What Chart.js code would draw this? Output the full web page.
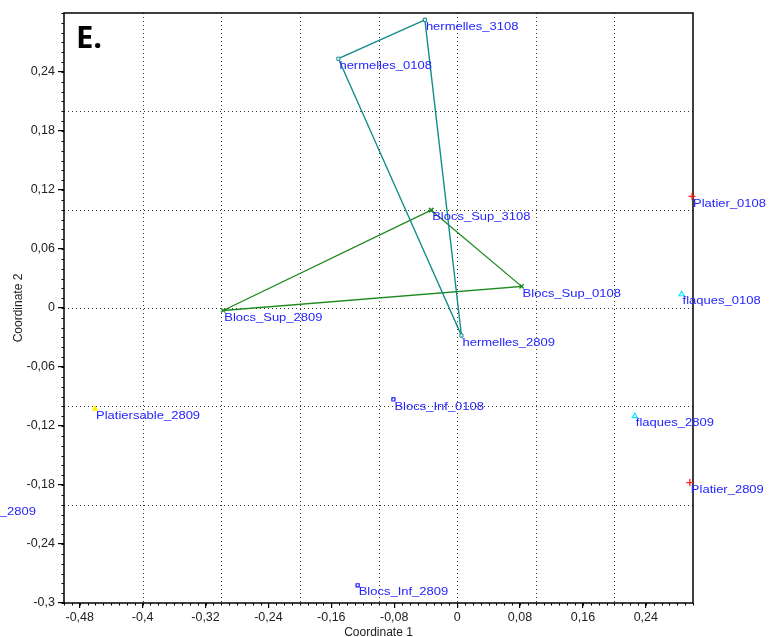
<!DOCTYPE html>
<html>
<head>
<meta charset="utf-8">
<script src="https://cdn.jsdelivr.net/npm/chart.js@4.4.0/dist/chart.umd.min.js"></script>
<style>
  body { margin: 0; background: #fff; }
  canvas { display: block; }
</style>
</head>
<body>
<canvas id="myChart" width="777" height="637"></canvas>
<script>
// site coordinates (Coordinate 1, Coordinate 2)
const hermellesNames = ['hermelles_3108', 'hermelles_0108', 'hermelles_2809'];
const hermellesX = [-0.041, -0.151, 0.0055];
const hermellesY = [0.293, 0.2535, -0.028];

const blocsSupNames = ['Blocs_Sup_3108', 'Blocs_Sup_0108', 'Blocs_Sup_2809'];
const blocsSupX = [-0.033, 0.082, -0.2975];
const blocsSupY = [0.0995, 0.022, -0.0025];

const blocsInfNames = ['Blocs_Inf_0108', 'Blocs_Inf_2809'];
const blocsInfX = [-0.081, -0.1265];
const blocsInfY = [-0.093, -0.282];

const platierSableNames = ['Platiersable_2809'];
const platierSableX = [-0.4605];
const platierSableY = [-0.1025];

const flaquesNames = ['flaques_0108', 'flaques_2809'];
const flaquesX = [0.2855, 0.226];
const flaquesY = [0.014, -0.110];

const platierNames = ['Platier_0108', 'Platier_2809'];
const platierX = [0.2988, 0.296];
const platierY = [0.1135, -0.1775];

// label of a site lying left of the plotted range
const outsideNames = ['_2809'];
const outsideX = [-0.583];
const outsideY = [-0.2];

// axis ticks and dotted grid
const xTicks = [-0.48, -0.40, -0.32, -0.24, -0.16, -0.08, 0, 0.08, 0.16, 0.24];
const yTicks = [-0.30, -0.24, -0.18, -0.12, -0.06, 0, 0.06, 0.12, 0.18, 0.24];
const gridX = [-0.4, -0.3, -0.2, -0.1, 0, 0.1, 0.2];
const gridY = [-0.2, -0.1, 0, 0.1, 0.2];

const pts = (xs, ys) => xs.map((x, i) => ({ x: x, y: ys[i] }));
const closed = (xs, ys) => { const p = pts(xs, ys); p.push(p[0]); return p; };

const fmt = v => String(parseFloat(Number(v).toFixed(2))).replace('.', ',');

const gridPlugin = {
  id: 'dotGrid',
  beforeDatasetsDraw(chart) {
    const { ctx, chartArea: a, scales: { x, y } } = chart;
    ctx.save();
    ctx.strokeStyle = '#333';
    ctx.lineWidth = 1;
    ctx.setLineDash([1, 3]);
    gridX.forEach(v => {
      const px = Math.round(x.getPixelForValue(v)) + 0.5;
      ctx.beginPath(); ctx.moveTo(px, a.top); ctx.lineTo(px, a.bottom); ctx.stroke();
    });
    gridY.forEach(v => {
      const py = Math.round(y.getPixelForValue(v)) + 0.5;
      ctx.beginPath(); ctx.moveTo(a.left, py); ctx.lineTo(a.right, py); ctx.stroke();
    });
    // minor ticks every 0.01
    ctx.setLineDash([]);
    ctx.strokeStyle = '#000';
    for (let k = -50; k <= 30; k++) {
      const px = Math.round(x.getPixelForValue(k / 100)) + 0.5;
      ctx.beginPath(); ctx.moveTo(px, a.bottom); ctx.lineTo(px, a.bottom + 2.5); ctx.stroke();
    }
    for (let k = -30; k <= 30; k++) {
      const py = Math.round(y.getPixelForValue(k / 100)) + 0.5;
      ctx.beginPath(); ctx.moveTo(a.left - 2.5, py); ctx.lineTo(a.left, py); ctx.stroke();
    }
    ctx.lineWidth = 1.5;
    ctx.strokeRect(a.left, a.top, a.right - a.left, a.bottom - a.top);
    ctx.restore();
  },
  afterDraw(chart) {
    const ctx = chart.ctx;
    ctx.save();
    ctx.fillStyle = '#000';
    ctx.font = 'bold 31px "Open Sans", sans-serif';
    ctx.textBaseline = 'alphabetic';
    ctx.fillText('E.', 76, 48);
    ctx.restore();
  }
};

const labelPlugin = {
  id: 'siteLabels',
  afterDatasetsDraw(chart) {
    const ctx = chart.ctx;
    ctx.save();
    ctx.fillStyle = '#2424ff';
    ctx.font = '11.5px "Liberation Sans", Arial, sans-serif';
    ctx.textBaseline = 'middle';
    chart.data.datasets.forEach((ds, i) => {
      const meta = chart.getDatasetMeta(i);
      ds.names.forEach((name, j) => {
        const pt = meta.data[j];
        ctx.save();
        ctx.translate(pt.x + 1, pt.y + 7);
        ctx.scale(1.13, 1);
        ctx.fillText(name, 0, 0);
        ctx.restore();
      });
    });
    ctx.restore();
  }
};

const ctx = document.getElementById('myChart').getContext('2d');
const chart = new Chart(ctx, {
  type: 'scatter',
  data: {
    datasets: [
      {
        names: hermellesNames,
        data: closed(hermellesX, hermellesY),
        showLine: true,
        borderColor: '#128c8c',
        borderWidth: 1.4,
        pointStyle: 'rect',
        pointRadius: 2.2,
        pointBorderWidth: 1,
        pointBackgroundColor: '#fff',
        pointBorderColor: '#128c8c'
      },
      {
        names: blocsSupNames,
        data: closed(blocsSupX, blocsSupY),
        showLine: true,
        borderColor: '#1e8a1e',
        borderWidth: 1.3,
        pointStyle: 'crossRot',
        pointRadius: 3,
        pointBorderWidth: 1.2,
        pointBorderColor: '#1e8a1e'
      },
      {
        names: blocsInfNames,
        data: pts(blocsInfX, blocsInfY),
        pointStyle: 'rect',
        pointRadius: 2.2,
        pointBorderWidth: 1.2,
        pointBackgroundColor: '#fff',
        pointBorderColor: '#1a1aff'
      },
      {
        names: platierSableNames,
        data: pts(platierSableX, platierSableY),
        pointStyle: 'triangle',
        pointRadius: 3,
        pointBorderWidth: 1,
        pointBackgroundColor: '#ffee00',
        pointBorderColor: '#ffee00'
      },
      {
        names: flaquesNames,
        data: pts(flaquesX, flaquesY),
        pointStyle: 'triangle',
        pointRadius: 3,
        pointBorderWidth: 1.1,
        pointBackgroundColor: '#fff',
        pointBorderColor: '#00e5ff'
      },
      {
        names: platierNames,
        data: pts(platierX, platierY),
        pointStyle: 'cross',
        pointRadius: 3.5,
        pointBorderWidth: 1.3,
        pointBorderColor: '#ff1a1a'
      },
      {
        names: outsideNames,
        data: pts(outsideX, outsideY),
        pointRadius: 0
      }
    ]
  },
  options: {
    responsive: false,
    animation: false,
    devicePixelRatio: 1,
    clip: false,
    layout: { padding: { top: 13, right: 84, left: 0, bottom: 0 } },
    plugins: { legend: { display: false }, tooltip: { enabled: false } },
    elements: { line: { tension: 0 } },
    scales: {
      x: {
        type: 'linear',
        min: -0.5,
        max: 0.3,
        afterBuildTicks: s => { s.ticks = xTicks.map(v => ({ value: v })); },
        afterFit: s => { s.height = 34; },
        border: { display: false },
        grid: { drawOnChartArea: false, drawTicks: true, tickLength: 5, color: '#000', lineWidth: 1.2 },
        ticks: {
          callback: fmt,
          color: '#222',
          padding: 2,
          maxRotation: 0,
          autoSkip: false,
          font: { family: '"Liberation Sans", Arial, sans-serif', size: 12.5 }
        },
        title: {
          display: true,
          text: 'Coordinate 1',
          color: '#222',
          padding: { top: 0, bottom: -3 },
          font: { family: '"Liberation Sans", Arial, sans-serif', size: 12 }
        }
      },
      y: {
        type: 'linear',
        min: -0.3,
        max: 0.3,
        afterBuildTicks: s => { s.ticks = yTicks.map(v => ({ value: v })); },
        afterFit: s => { s.width = 64; },
        border: { display: false },
        grid: { drawOnChartArea: false, drawTicks: true, tickLength: 6, color: '#000', lineWidth: 1.2 },
        ticks: {
          callback: fmt,
          color: '#222',
          padding: 3,
          autoSkip: false,
          font: { family: '"Liberation Sans", Arial, sans-serif', size: 12.5 }
        },
        title: {
          display: true,
          text: 'Coordinate 2',
          color: '#222',
          padding: { top: 11, bottom: 0 },
          font: { family: '"Liberation Sans", Arial, sans-serif', size: 12 }
        }
      }
    }
  },
  plugins: [gridPlugin, labelPlugin]
});
</script>
</body>
</html>
